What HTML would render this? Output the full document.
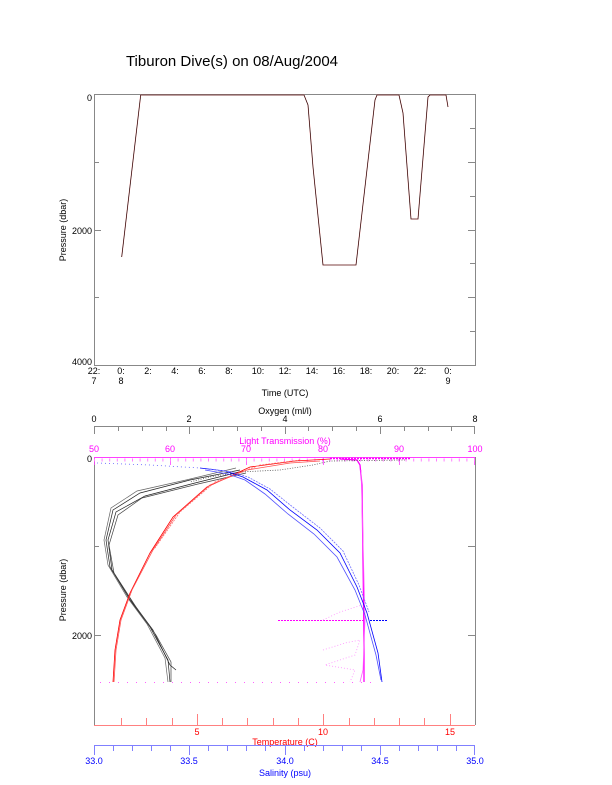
<!DOCTYPE html>
<html><head><meta charset="utf-8"><style>
body{margin:0;background:#fff;}
svg{display:block;font-family:"Liberation Sans",sans-serif;}
</style></head><body>
<svg width="612" height="785" viewBox="0 0 612 785" xmlns="http://www.w3.org/2000/svg">
<rect width="612" height="785" fill="#fff"/>
<text x="232" y="66" font-size="15" text-anchor="middle">Tiburon Dive(s) on 08/Aug/2004</text>

<!-- Top plot -->
<rect x="94.5" y="94.5" width="381" height="271" fill="none" stroke="#888" stroke-width="1"/>
<g stroke="#888" stroke-width="1">
<line x1="94" y1="162.5" x2="99" y2="162.5"/><line x1="94" y1="230.5" x2="101" y2="230.5"/><line x1="94" y1="297.5" x2="99" y2="297.5"/>
<line x1="470" y1="128.5" x2="475" y2="128.5"/><line x1="468" y1="162.5" x2="475" y2="162.5"/><line x1="470" y1="196.5" x2="475" y2="196.5"/><line x1="468" y1="230.5" x2="475" y2="230.5"/><line x1="470" y1="263.5" x2="475" y2="263.5"/><line x1="468" y1="297.5" x2="475" y2="297.5"/><line x1="470" y1="331.5" x2="475" y2="331.5"/>
</g>
<g font-size="9" text-anchor="end"><text x="92" y="101">0</text><text x="92" y="234">2000</text><text x="92" y="365">4000</text></g>
<g font-size="9" text-anchor="middle">
<text x="94" y="374">22:</text><text x="94" y="384">7</text>
<text x="121" y="374">0:</text><text x="121" y="384">8</text>
<text x="148" y="374">2:</text><text x="175" y="374">4:</text><text x="202" y="374">6:</text><text x="229" y="374">8:</text>
<text x="258" y="374">10:</text><text x="285" y="374">12:</text><text x="312" y="374">14:</text><text x="339" y="374">16:</text>
<text x="366" y="374">18:</text><text x="393" y="374">20:</text><text x="420" y="374">22:</text>
<text x="448" y="374">0:</text><text x="448" y="384">9</text>
<text x="285" y="396">Time (UTC)</text>
</g>
<text transform="translate(66,230) rotate(-90)" font-size="9" text-anchor="middle">Pressure (dbar)</text>
<polyline fill="none" stroke="#ff8080" stroke-width="1" points="121.7,257 140.7,95 304,95 308,105 313,167 323,265 356,265 375,100 377,95 399,95 403,113 411,219 418,219 428,97 430,95 446,95 448,107"/>
<polyline fill="none" stroke="#000" stroke-width="0.6" points="121.7,257 140.7,95 304,95 308,105 313,167 323,265 356,265 375,100 377,95 399,95 403,113 411,219 418,219 428,97 430,95 446,95 448,107"/>

<!-- Bottom plot -->
<line x1="94.5" y1="457" x2="94.5" y2="725" stroke="#888"/>
<g stroke="#888"><line x1="94" y1="546.5" x2="99" y2="546.5"/><line x1="94" y1="635.5" x2="101" y2="635.5"/><line x1="94" y1="457.5" x2="101" y2="457.5"/>
<line x1="468" y1="546.5" x2="475" y2="546.5"/><line x1="468" y1="635.5" x2="475" y2="635.5"/><line x1="475.5" y1="457" x2="475.5" y2="725"/></g>
<g font-size="9" text-anchor="end"><text x="92" y="462">0</text><text x="92" y="639">2000</text></g>
<text transform="translate(66,590) rotate(-90)" font-size="9" text-anchor="middle">Pressure (dbar)</text>

<!-- Oxygen axis -->
<line x1="94" y1="426.5" x2="475" y2="426.5" stroke="#888"/>
<g stroke="#888">
<line x1="94.5" y1="427" x2="94.5" y2="434"/><line x1="118.5" y1="427" x2="118.5" y2="431"/><line x1="142.5" y1="427" x2="142.5" y2="431"/><line x1="166.5" y1="427" x2="166.5" y2="431"/><line x1="189.5" y1="427" x2="189.5" y2="434"/><line x1="213.5" y1="427" x2="213.5" y2="431"/><line x1="237.5" y1="427" x2="237.5" y2="431"/><line x1="261.5" y1="427" x2="261.5" y2="431"/><line x1="285.5" y1="427" x2="285.5" y2="434"/><line x1="308.5" y1="427" x2="308.5" y2="431"/><line x1="332.5" y1="427" x2="332.5" y2="431"/><line x1="356.5" y1="427" x2="356.5" y2="431"/><line x1="380.5" y1="427" x2="380.5" y2="434"/><line x1="404.5" y1="427" x2="404.5" y2="431"/><line x1="428.5" y1="427" x2="428.5" y2="431"/><line x1="451.5" y1="427" x2="451.5" y2="431"/><line x1="474.5" y1="427" x2="474.5" y2="434"/>
</g>
<g font-size="9" text-anchor="middle"><text x="94" y="422">0</text><text x="189" y="422">2</text><text x="285" y="422">4</text><text x="380" y="422">6</text><text x="475" y="422">8</text><text x="285" y="414">Oxygen (ml/l)</text></g>

<!-- Light transmission axis -->
<line x1="94" y1="457.5" x2="475" y2="457.5" stroke="#ff40ff"/>
<g stroke="#ff40ff" stroke-width="0.8">
<line x1="94.5" y1="457" x2="94.5" y2="465"/><line x1="170.5" y1="457" x2="170.5" y2="465"/><line x1="246.5" y1="457" x2="246.5" y2="465"/><line x1="323.5" y1="457" x2="323.5" y2="465"/><line x1="399.5" y1="457" x2="399.5" y2="465"/><line x1="474.5" y1="457" x2="474.5" y2="465"/>
</g>
<line x1="94" y1="460" x2="475" y2="460" stroke="#ff80ff" stroke-width="3" stroke-dasharray="1 6.6"/>
<g font-size="9" fill="#ff00ff" text-anchor="middle"><text x="94" y="452">50</text><text x="170" y="452">60</text><text x="246" y="452">70</text><text x="323" y="452">80</text><text x="399" y="452">90</text><text x="475" y="452">100</text><text x="285" y="444">Light Transmission (%)</text></g>

<!-- Temperature axis -->
<line x1="94" y1="725.5" x2="475" y2="725.5" stroke="#ff8080"/>
<g stroke="#ff8080">
<line x1="121.5" y1="718" x2="121.5" y2="725"/><line x1="146.5" y1="718" x2="146.5" y2="725"/><line x1="172.5" y1="718" x2="172.5" y2="725"/><line x1="197.5" y1="714" x2="197.5" y2="725"/><line x1="222.5" y1="718" x2="222.5" y2="725"/><line x1="247.5" y1="718" x2="247.5" y2="725"/><line x1="273.5" y1="718" x2="273.5" y2="725"/><line x1="298.5" y1="718" x2="298.5" y2="725"/><line x1="323.5" y1="714" x2="323.5" y2="725"/><line x1="349.5" y1="718" x2="349.5" y2="725"/><line x1="374.5" y1="718" x2="374.5" y2="725"/><line x1="399.5" y1="718" x2="399.5" y2="725"/><line x1="424.5" y1="718" x2="424.5" y2="725"/><line x1="450.5" y1="714" x2="450.5" y2="725"/>
</g>
<g font-size="9" fill="#ff0000" text-anchor="middle"><text x="197" y="735">5</text><text x="323" y="735">10</text><text x="450" y="735">15</text><text x="285" y="745">Temperature (C)</text></g>

<!-- Salinity axis -->
<line x1="94" y1="745.5" x2="475" y2="745.5" stroke="#8080ff"/>
<g stroke="#8080ff">
<line x1="94.5" y1="745" x2="94.5" y2="755"/><line x1="113.5" y1="745" x2="113.5" y2="751"/><line x1="132.5" y1="745" x2="132.5" y2="751"/><line x1="151.5" y1="745" x2="151.5" y2="751"/><line x1="170.5" y1="745" x2="170.5" y2="751"/><line x1="189.5" y1="745" x2="189.5" y2="755"/><line x1="208.5" y1="745" x2="208.5" y2="751"/><line x1="227.5" y1="745" x2="227.5" y2="751"/><line x1="246.5" y1="745" x2="246.5" y2="751"/><line x1="265.5" y1="745" x2="265.5" y2="751"/><line x1="285.5" y1="745" x2="285.5" y2="755"/><line x1="304.5" y1="745" x2="304.5" y2="751"/><line x1="323.5" y1="745" x2="323.5" y2="751"/><line x1="342.5" y1="745" x2="342.5" y2="751"/><line x1="361.5" y1="745" x2="361.5" y2="751"/><line x1="380.5" y1="745" x2="380.5" y2="755"/><line x1="399.5" y1="745" x2="399.5" y2="751"/><line x1="418.5" y1="745" x2="418.5" y2="751"/><line x1="437.5" y1="745" x2="437.5" y2="751"/><line x1="456.5" y1="745" x2="456.5" y2="751"/><line x1="474.5" y1="745" x2="474.5" y2="755"/>
</g>
<g font-size="9" fill="#0000ff" text-anchor="middle"><text x="94" y="764">33.0</text><text x="189" y="764">33.5</text><text x="285" y="764">34.0</text><text x="380" y="764">34.5</text><text x="475" y="764">35.0</text><text x="285" y="776">Salinity (psu)</text></g>

<!-- Magenta light transmission -->
<line x1="330" y1="458.5" x2="410" y2="458.5" stroke="#ff00ff" stroke-width="1.5" stroke-dasharray="2 1"/>
<line x1="100" y1="682.5" x2="375" y2="682.5" stroke="#ff60ff" stroke-width="1" stroke-dasharray="1 8"/>
<polyline fill="none" stroke="#ff00ff" stroke-width="1.3" points="340,459 357,460 360,465 362,485 363,560 364,640 364,682"/>
<polyline fill="none" stroke="#ff60ff" stroke-width="0.8" points="361,470 363,540 365,620 363,670 360,682"/>
<line x1="278" y1="620.5" x2="365" y2="620.5" stroke="#ff00ff" stroke-width="1" stroke-dasharray="2 1"/>
<polyline fill="none" stroke="#ff90ff" stroke-width="0.8" stroke-dasharray="1 2" points="323,620 340,612 362,605"/>
<polyline fill="none" stroke="#ff90ff" stroke-width="0.8" stroke-dasharray="1 2" points="323,650 345,643 360,640 355,655 325,665 355,670 350,682"/>

<!-- Black oxygen -->
<polyline fill="none" stroke="#555" stroke-width="0.8" stroke-dasharray="1 1.5" points="405,460 330,461 313,465 280,470 240,472 210,477 190,482"/>
<g fill="none" stroke="#222" stroke-width="0.7">
<polyline points="240,470 190,480 140,493 113,510 106,540 110,567 130,600 150,627 168,660 170,682"/>
<polyline points="243,471 195,483 145,496 116,512 108,540 112,570 133,603 153,630 170,665 176,670"/>
<polyline stroke="#666" points="236,468 186,480 137,491 111,508 104,540 108,565 127,597 147,624 165,658 168,682"/>
<polyline stroke="#444" points="246,473 198,484 142,498 118,515 109,545 114,573 136,607 156,635 171,662 171,682"/>
</g>

<!-- Red temperature -->
<g fill="none" stroke="#ff0000" stroke-width="0.8">
<polyline points="330,459 295,461 250,467 207,487 173,517 150,553 130,593 120,620 115,650 113,682"/>
<polyline stroke="#ff5050" points="320,461 290,463 247,470 210,485 176,515 153,550 132,590 121,620 116,650 114,682"/>
<polyline stroke="#ff7070" stroke-dasharray="2 1" points="300,460 260,465 215,482 180,512 155,548"/>
</g>

<!-- Blue salinity -->
<polyline fill="none" stroke="#6060ff" stroke-width="0.8" stroke-dasharray="1 3" points="97,463 150,465 200,468"/>
<g fill="none" stroke="#0000ff" stroke-width="0.8">
<polyline points="200,468 225,471 243,477 267,490 290,510 317,530 340,553 357,587 367,613 378,653 382,682"/>
<polyline stroke="#5050ff" points="205,470 228,474 245,480 265,494 288,514 314,534 337,557 355,590 365,615 376,655 381,680"/>
<polyline stroke="#7070ff" stroke-dasharray="2 1" points="210,469 232,472 248,477 270,489 294,508 320,528 343,551 359,585 369,612"/>
</g>
<line x1="370" y1="620.5" x2="388" y2="620.5" stroke="#0000ff" stroke-width="1" stroke-dasharray="2 1"/>
</svg>
</body></html>
